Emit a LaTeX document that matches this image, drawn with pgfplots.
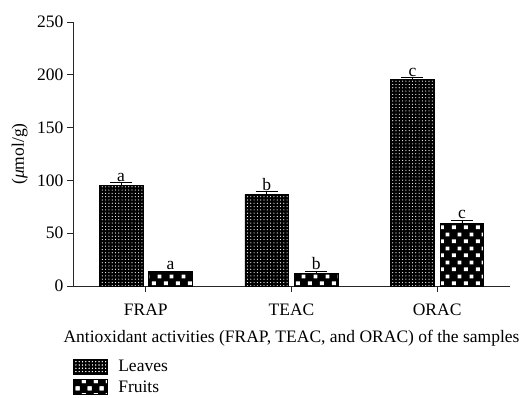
\documentclass[border=0pt]{standalone}
\usepackage{fontspec}
\setmainfont{Liberation Serif}
\usepackage{pgfplots}
\pgfplotsset{compat=1.18}
\usetikzlibrary{patterns}

\pgfdeclarepatternformonly{leafdots}{\pgfqpoint{-1pt}{-1pt}}{\pgfqpoint{1pt}{1pt}}{\pgfqpoint{3.3pt}{3.3pt}}{%
  \pgfpathcircle{\pgfqpoint{0pt}{0pt}}{0.6pt}\pgfusepath{fill}}
\pgfdeclarepatternformonly{fruitchecks}{\pgfqpoint{0pt}{0pt}}{\pgfqpoint{11.6pt}{14pt}}{\pgfqpoint{11.6pt}{14pt}}{%
  \pgfpathrectangle{\pgfqpoint{1pt}{1pt}}{\pgfqpoint{4pt}{4pt}}%
  \pgfpathrectangle{\pgfqpoint{6.8pt}{8pt}}{\pgfqpoint{4pt}{4pt}}%
  \pgfusepath{fill}}

\begin{document}
\begin{tikzpicture}
\begin{axis}[
  scale only axis,
  width=437pt, height=264pt,
  xmin=-0.5, xmax=2.5,
  ymin=0, ymax=250,
  axis x line*=bottom, axis y line*=left,
  axis line style={line width=0.8pt, black!85},
  xtick={0,1,2}, xticklabels={FRAP,TEAC,ORAC},
  ytick={0,50,100,150,200,250},
  tick align=outside,
  major tick length=6pt,
  tick style={line width=0.8pt, black!85},
  /pgf/number format/assume math mode=true,
  ticklabel style={font=\fontsize{17.5}{20}\selectfont},
  xticklabel style={yshift=-8pt},
  label style={font=\fontsize{17.5}{20}\selectfont},
  xlabel={Antioxidant activities (FRAP, TEAC, and ORAC) of the samples},
  ylabel={(\textit{μ}mol/g)},
  xlabel style={yshift=-8pt},
  ylabel style={at={(axis description cs:-0.122,0.5)}, anchor=center},
  legend style={at={(0,-0.274)}, anchor=north west, draw=none, inner sep=0pt,
    font=\fontsize{17.5}{20}\selectfont, row sep=3.5pt, cells={anchor=west}},
  legend cell align=left,
  clip=false,
]
\addplot[ybar, bar width=0.3, bar shift=0pt, draw=black, line width=0.6pt, fill=black,
  postaction={pattern=leafdots, pattern color=white},
  legend image code/.code={\draw[line width=0.6pt, fill=black, postaction={pattern=leafdots, pattern color=white}] (0pt,-7pt) rectangle (34pt,8pt); \path[draw=none, fill=none] (0pt,0pt) (42.5pt,0pt);},
  error bars/.cd, y dir=plus, y explicit,
  error bar style={line width=0.8pt, black},
  error mark options={rotate=90, mark size=11pt, line width=0.8pt, black}]
  coordinates {(-0.17,95.3) +- (0,2.7) (0.83,86.8) +- (0,2.5) (1.83,196) +- (0,1.3)};
\addlegendentry{Leaves}
\addplot[ybar, bar width=0.3, bar shift=0pt, draw=black, line width=0.6pt, fill=black,
  postaction={pattern=fruitchecks, pattern color=white},
  legend image code/.code={\draw[line width=0.6pt, fill=black, postaction={pattern=fruitchecks, pattern color=white}] (0pt,-7pt) rectangle (34pt,8pt); \path[draw=none, fill=none] (0pt,0pt) (42.5pt,0pt);},
  error bars/.cd, y dir=plus, y explicit,
  error bar style={line width=0.8pt, black},
  error mark options={rotate=90, mark size=11pt, line width=0.8pt, black}]
  coordinates {(0.17,13.5) +- (0,0.5) (1.17,12) +- (0,1.9) (2.17,59.3) +- (0,2.9)};
\addlegendentry{Fruits}
\addplot[draw=none, forget plot, nodes near coords, point meta=explicit symbolic,
  nodes near coords style={anchor=south, inner sep=1pt, font=\fontsize{17.5}{20}\selectfont}]
  coordinates {(-0.17,98) [a] (0.83,89.3) [b] (1.83,197.3) [c]
               (0.17,14) [a] (1.17,13.9) [b] (2.17,62.2) [c]};
\end{axis}
\pgfresetboundingbox
\path[use as bounding box] (-73pt,-112pt) rectangle (449pt,286pt);
\end{tikzpicture}
\end{document}
